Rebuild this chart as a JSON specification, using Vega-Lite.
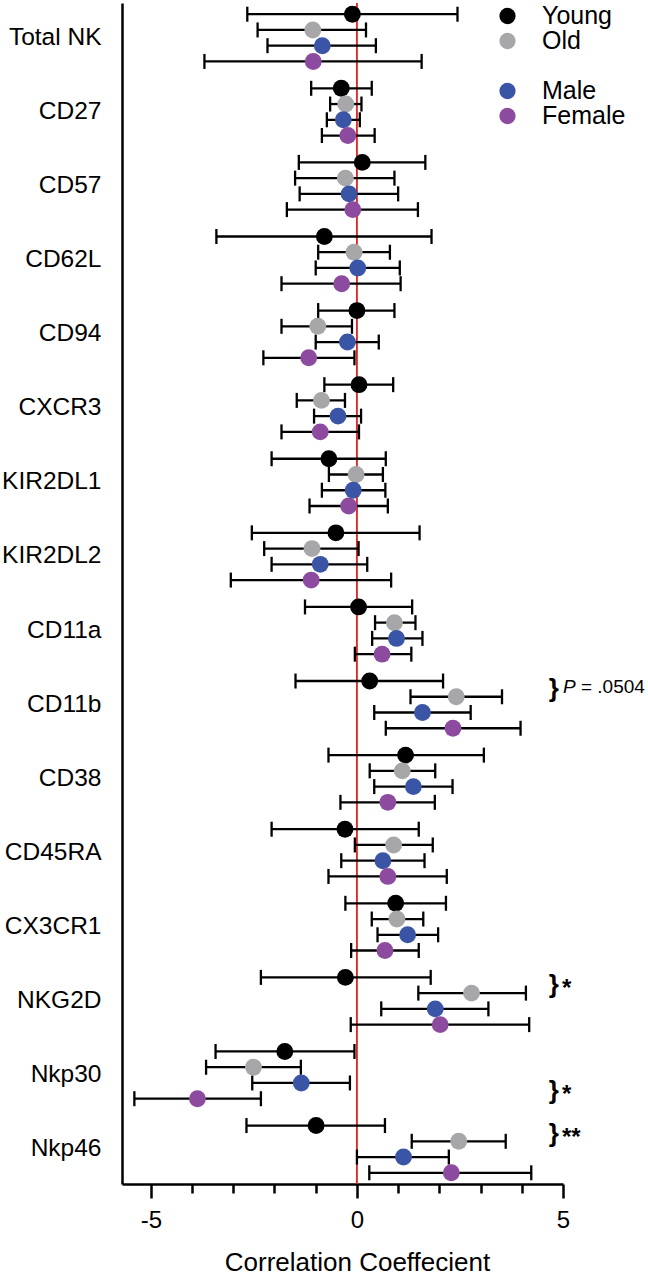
{
  "$schema": "https://vega.github.io/schema/vega-lite/v6.json",
  "autosize": "none",
  "width": 441,
  "height": 1181,
  "padding": {"left": 122, "top": 3, "right": 85, "bottom": 94},
  "background": "white",
  "config": {"view": {"stroke": null}, "font": "Liberation Sans"},
  "datasets": {
    "est": [
      {"m": "Total NK", "g": "Young", "v": -0.11, "lo": -2.66, "hi": 2.44},
      {"m": "Total NK", "g": "Old", "v": -1.07, "lo": -2.41, "hi": 0.22},
      {"m": "Total NK", "g": "Male", "v": -0.84, "lo": -2.17, "hi": 0.46},
      {"m": "Total NK", "g": "Female", "v": -1.06, "lo": -3.70, "hi": 1.57},
      {"m": "CD27", "g": "Young", "v": -0.38, "lo": -1.11, "hi": 0.36},
      {"m": "CD27", "g": "Old", "v": -0.27, "lo": -0.65, "hi": 0.11},
      {"m": "CD27", "g": "Male", "v": -0.33, "lo": -0.73, "hi": 0.07},
      {"m": "CD27", "g": "Female", "v": -0.22, "lo": -0.85, "hi": 0.43},
      {"m": "CD57", "g": "Young", "v": 0.13, "lo": -1.41, "hi": 1.66},
      {"m": "CD57", "g": "Old", "v": -0.28, "lo": -1.50, "hi": 0.91},
      {"m": "CD57", "g": "Male", "v": -0.19, "lo": -1.39, "hi": 1.00},
      {"m": "CD57", "g": "Female", "v": -0.10, "lo": -1.70, "hi": 1.48},
      {"m": "CD62L", "g": "Young", "v": -0.79, "lo": -3.41, "hi": 1.81},
      {"m": "CD62L", "g": "Old", "v": -0.07, "lo": -0.94, "hi": 0.80},
      {"m": "CD62L", "g": "Male", "v": 0.02, "lo": -1.00, "hi": 1.04},
      {"m": "CD62L", "g": "Female", "v": -0.37, "lo": -1.83, "hi": 1.06},
      {"m": "CD94", "g": "Young", "v": 0.0, "lo": -0.94, "hi": 0.91},
      {"m": "CD94", "g": "Old", "v": -0.95, "lo": -1.83, "hi": -0.12},
      {"m": "CD94", "g": "Male", "v": -0.23, "lo": -1.00, "hi": 0.53},
      {"m": "CD94", "g": "Female", "v": -1.17, "lo": -2.27, "hi": -0.06},
      {"m": "CXCR3", "g": "Young", "v": 0.05, "lo": -0.79, "hi": 0.88},
      {"m": "CXCR3", "g": "Old", "v": -0.86, "lo": -1.46, "hi": -0.29},
      {"m": "CXCR3", "g": "Male", "v": -0.46, "lo": -1.04, "hi": 0.10},
      {"m": "CXCR3", "g": "Female", "v": -0.89, "lo": -1.83, "hi": 0.05},
      {"m": "KIR2DL1", "g": "Young", "v": -0.68, "lo": -2.07, "hi": 0.70},
      {"m": "KIR2DL1", "g": "Old", "v": -0.02, "lo": -0.68, "hi": 0.63},
      {"m": "KIR2DL1", "g": "Male", "v": -0.09, "lo": -0.85, "hi": 0.69},
      {"m": "KIR2DL1", "g": "Female", "v": -0.20, "lo": -1.15, "hi": 0.75},
      {"m": "KIR2DL2", "g": "Young", "v": -0.51, "lo": -2.55, "hi": 1.52},
      {"m": "KIR2DL2", "g": "Old", "v": -1.09, "lo": -2.25, "hi": 0.04},
      {"m": "KIR2DL2", "g": "Male", "v": -0.89, "lo": -2.07, "hi": 0.25},
      {"m": "KIR2DL2", "g": "Female", "v": -1.11, "lo": -3.06, "hi": 0.83},
      {"m": "CD11a", "g": "Young", "v": 0.04, "lo": -1.26, "hi": 1.34},
      {"m": "CD11a", "g": "Old", "v": 0.91, "lo": 0.44, "hi": 1.42},
      {"m": "CD11a", "g": "Male", "v": 0.96, "lo": 0.37, "hi": 1.59},
      {"m": "CD11a", "g": "Female", "v": 0.61, "lo": -0.05, "hi": 1.32},
      {"m": "CD11b", "g": "Young", "v": 0.31, "lo": -1.49, "hi": 2.09},
      {"m": "CD11b", "g": "Old", "v": 2.41, "lo": 1.30, "hi": 3.52},
      {"m": "CD11b", "g": "Male", "v": 1.59, "lo": 0.42, "hi": 2.76},
      {"m": "CD11b", "g": "Female", "v": 2.33, "lo": 0.70, "hi": 3.97},
      {"m": "CD38", "g": "Young", "v": 1.18, "lo": -0.69, "hi": 3.08},
      {"m": "CD38", "g": "Old", "v": 1.10, "lo": 0.31, "hi": 1.90},
      {"m": "CD38", "g": "Male", "v": 1.37, "lo": 0.42, "hi": 2.32},
      {"m": "CD38", "g": "Female", "v": 0.75, "lo": -0.40, "hi": 1.89},
      {"m": "CD45RA", "g": "Young", "v": -0.29, "lo": -2.07, "hi": 1.50},
      {"m": "CD45RA", "g": "Old", "v": 0.89, "lo": -0.05, "hi": 1.84},
      {"m": "CD45RA", "g": "Male", "v": 0.63, "lo": -0.38, "hi": 1.64},
      {"m": "CD45RA", "g": "Female", "v": 0.75, "lo": -0.69, "hi": 2.18},
      {"m": "CX3CR1", "g": "Young", "v": 0.94, "lo": -0.28, "hi": 2.16},
      {"m": "CX3CR1", "g": "Old", "v": 0.97, "lo": 0.36, "hi": 1.61},
      {"m": "CX3CR1", "g": "Male", "v": 1.23, "lo": 0.50, "hi": 1.97},
      {"m": "CX3CR1", "g": "Female", "v": 0.68, "lo": -0.14, "hi": 1.50},
      {"m": "NKG2D", "g": "Young", "v": -0.28, "lo": -2.33, "hi": 1.79},
      {"m": "NKG2D", "g": "Old", "v": 2.78, "lo": 1.49, "hi": 4.10},
      {"m": "NKG2D", "g": "Male", "v": 1.90, "lo": 0.59, "hi": 3.19},
      {"m": "NKG2D", "g": "Female", "v": 2.02, "lo": -0.15, "hi": 4.18},
      {"m": "Nkp30", "g": "Young", "v": -1.75, "lo": -3.43, "hi": -0.06},
      {"m": "Nkp30", "g": "Old", "v": -2.51, "lo": -3.66, "hi": -1.36},
      {"m": "Nkp30", "g": "Male", "v": -1.35, "lo": -2.54, "hi": -0.17},
      {"m": "Nkp30", "g": "Female", "v": -3.87, "lo": -5.40, "hi": -2.33},
      {"m": "Nkp46", "g": "Young", "v": -0.99, "lo": -2.68, "hi": 0.68},
      {"m": "Nkp46", "g": "Old", "v": 2.47, "lo": 1.33, "hi": 3.61},
      {"m": "Nkp46", "g": "Male", "v": 1.13, "lo": 0.0, "hi": 2.23},
      {"m": "Nkp46", "g": "Female", "v": 2.29, "lo": 0.30, "hi": 4.23}
    ],
    "ann": [
      {"m": "CD11b", "g": "Young", "s": "", "p": "P", "t": "= .0504"},
      {"m": "NKG2D", "g": "Young", "s": "*", "p": "", "t": ""},
      {"m": "Nkp30", "g": "Male", "s": "*", "p": "", "t": ""},
      {"m": "Nkp46", "g": "Young", "s": "**", "p": "", "t": ""}
    ]
  },
  "layer": [
    {
      "data": {"values": [{}]},
      "mark": {"type": "rule", "color": "#e0231f", "strokeWidth": 1.8},
      "encoding": {
        "x": {
          "datum": 0, "type": "quantitative",
          "scale": {"domain": [-5.7, 5], "nice": false, "zero": false},
          "axis": {
            "values": [-5, -4, -3, -2, -1, 0, 1, 2, 3, 4, 5],
            "labelExpr": "datum.value % 5 == 0 ? '' + datum.value : ''",
            "tickSize": {"condition": {"test": "datum.value % 5 == 0", "value": 14}, "value": 9},
            "tickWidth": 2.5, "tickColor": "black",
            "domainColor": "black", "domainWidth": 2.5,
            "labelFontSize": 24, "labelColor": "black", "labelPadding": 10,
            "labelFlush": false, "labelOverlap": false, "grid": false,
            "title": "Correlation Coeffecient", "titleFontSize": 26, "titleFontWeight": "normal",
            "titleColor": "black", "titleX": 235, "titleY": 86, "titleBaseline": "alphabetic", "titleAlign": "center"
          }
        }
      }
    },
    {
      "data": {"name": "est"},
      "mark": {"type": "rule", "color": "black", "strokeWidth": 2.3},
      "encoding": {
        "x": {"field": "lo", "type": "quantitative"},
        "x2": {"field": "hi"},
        "y": {
          "field": "m", "type": "nominal",
          "scale": {"domain": ["Total NK", "CD27", "CD57", "CD62L", "CD94", "CXCR3", "KIR2DL1", "KIR2DL2", "CD11a", "CD11b", "CD38", "CD45RA", "CX3CR1", "NKG2D", "Nkp30", "Nkp46"], "paddingInner": 0.15, "paddingOuter": 0.045},
          "axis": {"title": null, "ticks": false, "domainColor": "black", "domainWidth": 2.5, "labelFontSize": 24.5, "labelColor": "black", "labelPadding": 21}
        },
        "yOffset": {"field": "g", "type": "nominal", "scale": {"domain": ["Young", "Old", "Male", "Female"], "paddingInner": 0, "paddingOuter": 0}}
      }
    },
    {
      "data": {"name": "est"},
      "mark": {"type": "point", "shape": "M0,-1V1", "filled": false, "stroke": "black", "strokeWidth": 2.3, "size": 225, "opacity": 1},
      "encoding": {
        "x": {"field": "lo", "type": "quantitative"},
        "y": {"field": "m", "type": "nominal"},
        "yOffset": {"field": "g", "type": "nominal"}
      }
    },
    {
      "data": {"name": "est"},
      "mark": {"type": "point", "shape": "M0,-1V1", "filled": false, "stroke": "black", "strokeWidth": 2.3, "size": 225, "opacity": 1},
      "encoding": {
        "x": {"field": "hi", "type": "quantitative"},
        "y": {"field": "m", "type": "nominal"},
        "yOffset": {"field": "g", "type": "nominal"}
      }
    },
    {
      "data": {"name": "est"},
      "mark": {"type": "point", "filled": true, "opacity": 1, "size": 285, "strokeWidth": 0},
      "encoding": {
        "x": {"field": "v", "type": "quantitative"},
        "y": {"field": "m", "type": "nominal"},
        "yOffset": {"field": "g", "type": "nominal"},
        "color": {
          "field": "g", "type": "nominal",
          "scale": {"domain": ["Young", "Old", "gap", "Male", "Female"], "range": ["#000000", "#a7a7a9", "rgba(0,0,0,0)", "#3b55a6", "#8d4b9f"]},
          "legend": {
            "title": null, "orient": "none", "legendX": 373, "legendY": 1, "padding": 0,
            "labelFontSize": 25, "labelColor": "black", "symbolSize": 265, "symbolType": "circle",
            "symbolStrokeWidth": 0, "rowPadding": 0, "clipHeight": 24, "labelOffset": 22,
            "labelExpr": "datum.label == 'gap' ? '' : datum.label"
          }
        }
      }
    },
    {
      "data": {"name": "ann"},
      "mark": {"type": "text", "text": "}", "fontSize": 26, "fontWeight": "bold", "dy": 8, "align": "center", "baseline": "middle", "color": "black"},
      "encoding": {
        "x": {"datum": 4.78, "type": "quantitative"},
        "y": {"field": "m", "type": "nominal"},
        "yOffset": {"field": "g", "type": "nominal"}
      }
    },
    {
      "data": {"name": "ann"},
      "mark": {"type": "text", "fontSize": 24, "fontWeight": "bold", "dy": 12, "dx": 8, "align": "left", "baseline": "middle", "color": "black"},
      "encoding": {
        "x": {"datum": 4.78, "type": "quantitative"},
        "y": {"field": "m", "type": "nominal"},
        "yOffset": {"field": "g", "type": "nominal"},
        "text": {"field": "s"}
      }
    },
    {
      "data": {"name": "ann"},
      "mark": {"type": "text", "fontSize": 19, "fontStyle": "italic", "dy": 6, "dx": 9, "align": "left", "baseline": "middle", "color": "black"},
      "encoding": {
        "x": {"datum": 4.78, "type": "quantitative"},
        "y": {"field": "m", "type": "nominal"},
        "yOffset": {"field": "g", "type": "nominal"},
        "text": {"field": "p"}
      }
    },
    {
      "data": {"name": "ann"},
      "mark": {"type": "text", "fontSize": 19, "dy": 6, "dx": 27, "align": "left", "baseline": "middle", "color": "black"},
      "encoding": {
        "x": {"datum": 4.78, "type": "quantitative"},
        "y": {"field": "m", "type": "nominal"},
        "yOffset": {"field": "g", "type": "nominal"},
        "text": {"field": "t"}
      }
    }
  ]
}
